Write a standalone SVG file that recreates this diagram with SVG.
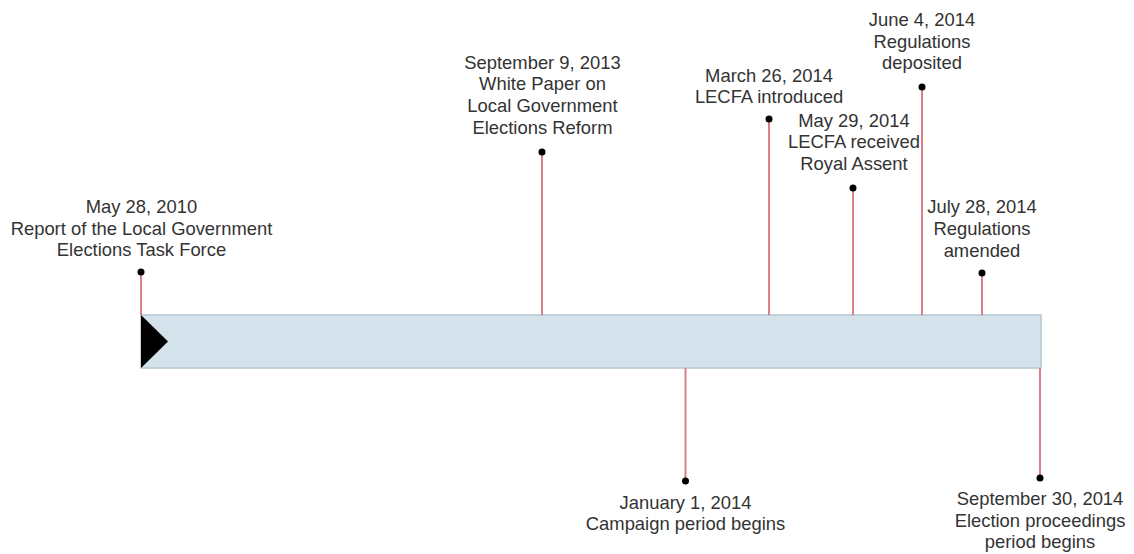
<svg xmlns="http://www.w3.org/2000/svg" width="1134" height="554" viewBox="0 0 1134 554">
<style>
.lbl{font-family:"Liberation Sans",Arial,sans-serif;font-size:18.4px;fill:#333;text-anchor:middle}
.stem{stroke:#dc7f86;stroke-width:2;fill:none}
.dot{fill:#000}
</style>
<rect width="1134" height="554" fill="#fff"/>
<g id="timeline-bar">
<rect x="141" y="315" width="900" height="53" fill="#d4e2eb" stroke="#b7c6d0" stroke-width="1.5"/>
<polygon points="141,315 168,341.5 141,368" fill="#000"/>
</g>
<g id="connectors">
<line class="stem" x1="141" y1="272" x2="141" y2="315"/>
<line class="stem" x1="542" y1="152" x2="542" y2="315"/>
<line class="stem" x1="769" y1="119" x2="769" y2="315"/>
<line class="stem" x1="853" y1="188" x2="853" y2="315"/>
<line class="stem" x1="922" y1="87" x2="922" y2="315"/>
<line class="stem" x1="982" y1="273" x2="982" y2="315"/>
<line class="stem" x1="685.5" y1="368" x2="685.5" y2="481"/>
<line class="stem" x1="1040" y1="368" x2="1040" y2="478"/>
</g>
<g id="ev-2010-05-28">
<circle class="dot" cx="141" cy="272" r="3.5"/>
<text class="lbl" x="141.5" y="213"><tspan x="141.5">May 28, 2010</tspan><tspan x="141.5" dy="21.6">Report of the Local Government</tspan><tspan x="141.5" dy="21.6">Elections Task Force</tspan></text>
</g>
<g id="ev-2013-09-09">
<circle class="dot" cx="542" cy="152" r="3.5"/>
<text class="lbl" x="542.5" y="68.5"><tspan x="542.5">September 9, 2013</tspan><tspan x="542.5" dy="21.8">White Paper on</tspan><tspan x="542.5" dy="21.8">Local Government</tspan><tspan x="542.5" dy="21.8">Elections Reform</tspan></text>
</g>
<g id="ev-2014-03-26">
<circle class="dot" cx="769" cy="119" r="3.5"/>
<text class="lbl" x="769" y="81.7"><tspan x="769">March 26, 2014</tspan><tspan x="769" dy="21.7">LECFA introduced</tspan></text>
</g>
<g id="ev-2014-05-29">
<circle class="dot" cx="853" cy="188" r="3.5"/>
<text class="lbl" x="854" y="126.7"><tspan x="854">May 29, 2014</tspan><tspan x="854" dy="21.7">LECFA received</tspan><tspan x="854" dy="21.7">Royal Assent</tspan></text>
</g>
<g id="ev-2014-06-04">
<circle class="dot" cx="922" cy="87" r="3.5"/>
<text class="lbl" x="922" y="26"><tspan x="922">June 4, 2014</tspan><tspan x="922" dy="21.7">Regulations</tspan><tspan x="922" dy="21.7">deposited</tspan></text>
</g>
<g id="ev-2014-07-28">
<circle class="dot" cx="982" cy="273" r="3.5"/>
<text class="lbl" x="982" y="213.3"><tspan x="982">July 28, 2014</tspan><tspan x="982" dy="21.7">Regulations</tspan><tspan x="982" dy="21.7">amended</tspan></text>
</g>
<g id="ev-2014-01-01">
<circle class="dot" cx="685.5" cy="481" r="3.5"/>
<text class="lbl" x="685.5" y="509.3"><tspan x="685.5">January 1, 2014</tspan><tspan x="685.5" dy="21">Campaign period begins</tspan></text>
</g>
<g id="ev-2014-09-30">
<circle class="dot" cx="1040" cy="478" r="3.5"/>
<text class="lbl" x="1040" y="505"><tspan x="1040">September 30, 2014</tspan><tspan x="1040" dy="21.7">Election proceedings</tspan><tspan x="1040" dy="21.7">period begins</tspan></text>
</g>
</svg>
